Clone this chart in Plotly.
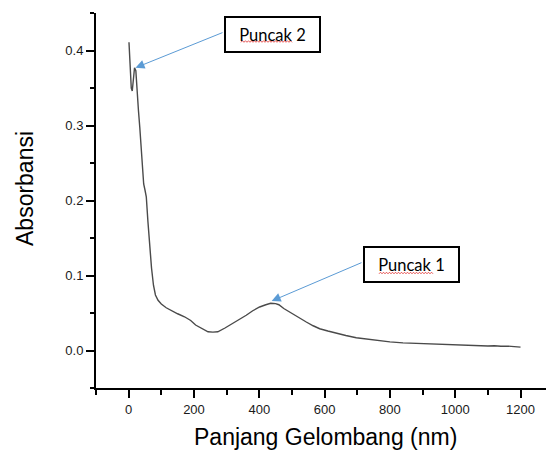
import plotly.graph_objects as go
import numpy as np

wavelength = [1, 4, 8, 11, 15, 18, 22, 26, 30, 34, 40, 46, 50, 54, 59, 64, 70, 76, 82, 90,
              100, 115, 131, 150, 171, 190, 205, 220, 243, 258, 273, 295, 319, 340, 360, 380,
              401, 420, 435, 450, 460, 475, 493, 520, 544, 565, 585, 610, 636, 665, 697, 730,
              768, 800, 840, 880, 911, 950, 990, 1013, 1030, 1045, 1060, 1080, 1100, 1120,
              1140, 1160, 1180, 1200]
absorbance = [0.411, 0.380, 0.350, 0.346, 0.362, 0.377, 0.373, 0.352, 0.320, 0.298, 0.255,
              0.222, 0.214, 0.205, 0.172, 0.140, 0.110, 0.087, 0.074, 0.067, 0.062, 0.057,
              0.053, 0.049, 0.045, 0.040, 0.034, 0.030, 0.025, 0.0245, 0.025, 0.030, 0.036,
              0.042, 0.047, 0.053, 0.058, 0.061, 0.063, 0.0625, 0.061, 0.056, 0.051, 0.044,
              0.038, 0.033, 0.029, 0.026, 0.023, 0.020, 0.017, 0.015, 0.0125, 0.0115, 0.0102,
              0.0095, 0.0089, 0.008, 0.0072, 0.0067, 0.0070, 0.0064, 0.0068, 0.0062, 0.0060,
              0.0064, 0.0056, 0.0059, 0.0052, 0.0045]

x_ticks = [0, 200, 400, 600, 800, 1000, 1200]
y_ticks = [0.0, 0.1, 0.2, 0.3, 0.4]
peak_labels = ["Puncak 2", "Puncak 1"]
peak_points_x = [21, 438]
peak_points_y = [0.377, 0.066]

W, H = 546, 451
L, R, T, B = 96, 0, 13, 63
X_RANGE = [-100, 1278]
Y_RANGE = [-0.05, 0.45]

def px_to_data(px, py):
    pw = W - L - R
    ph = H - T - B
    x = X_RANGE[0] + (px - L) / pw * (X_RANGE[1] - X_RANGE[0])
    y = Y_RANGE[1] - (py - T) / ph * (Y_RANGE[1] - Y_RANGE[0])
    return x, y

def px_to_paper(px, py):
    return (px - L) / (W - L - R), (H - B - py) / (H - T - B)

fig = go.Figure()
fig.add_trace(go.Scatter(x=wavelength, y=absorbance, mode="lines",
                         line=dict(color="#4a4a4a", width=1.4), showlegend=False,
                         hoverinfo="skip"))

font_ax = dict(family="Liberation Sans, Arial", size=13, color="#1a1a1a")
fig.update_xaxes(range=X_RANGE, tickvals=x_ticks, ticks="outside", ticklen=8, tickwidth=2,
                 tickcolor="black", showline=True, linecolor="black", linewidth=2,
                 showgrid=False, zeroline=False, tickfont=font_ax, automargin=False,
                 minor=dict(dtick=100, tick0=0, ticks="outside", ticklen=5, tickwidth=2,
                            tickcolor="black", showgrid=False))
fig.update_yaxes(range=Y_RANGE, tickvals=y_ticks, ticktext=[f"{v:.1f}" for v in y_ticks],
                 ticks="outside", ticklen=8, tickwidth=2, automargin=False,
                 tickcolor="black", showline=True, linecolor="black", linewidth=2,
                 showgrid=False, zeroline=False, tickfont=font_ax,
                 minor=dict(dtick=0.05, tick0=0, ticks="outside", ticklen=4, tickwidth=2,
                            tickcolor="black", showgrid=False))

annotations = []
annotations.append(dict(text="Panjang Gelombang (nm)", xref="paper", yref="paper",
                        x=px_to_paper(325, 0)[0], y=px_to_paper(0, 437)[1],
                        xanchor="center", yanchor="middle", showarrow=False,
                        font=dict(family="Liberation Sans, Arial", size=23, color="black")))
annotations.append(dict(text="Absorbansi", xref="paper", yref="paper",
                        x=px_to_paper(25, 0)[0], y=px_to_paper(0, 189)[1],
                        xanchor="center", yanchor="middle", showarrow=False, textangle=-90,
                        font=dict(family="Liberation Sans, Arial", size=23, color="black")))

box_centers = [(272.7, 34.7), (411.3, 264.7)]
arrow_tails = [(224, 32), (363, 262)]
shapes = []
squiggles = [(241, 293, 41.5), (379, 433, 273)]
for i, lab in enumerate(peak_labels):
    bx, by = px_to_data(*box_centers[i])
    annotations.append(dict(text=lab, x=bx, y=by, xref="x", yref="y", showarrow=False,
                            width=93, height=33, borderwidth=2, borderpad=0,
                            bordercolor="black", bgcolor="rgba(255,255,255,0)", align="center",
                            font=dict(family="Lato, Open Sans", size=16.5, color="black")))
    tip_x, tip_y = peak_points_x[i], peak_points_y[i]
    pw = W - L - R
    ph = H - T - B
    tpx = L + (tip_x - X_RANGE[0]) / (X_RANGE[1] - X_RANGE[0]) * pw
    tpy = T + (Y_RANGE[1] - tip_y) / (Y_RANGE[1] - Y_RANGE[0]) * ph
    annotations.append(dict(text="", x=tip_x, y=tip_y, xref="x", yref="y",
                            showarrow=True, ax=arrow_tails[i][0] - tpx,
                            ay=arrow_tails[i][1] - tpy, arrowhead=2, arrowsize=1.8,
                            arrowwidth=1, arrowcolor="#5b9bd5", standoff=0))
    x0, x1, yy = squiggles[i]
    pts = []
    xs = np.arange(x0, x1 + 0.01, 1.5)
    for k, xv in enumerate(xs):
        py = yy + (0.8 if k % 2 == 0 else -0.8)
        ppx, ppy = px_to_paper(xv, py)
        pts.append(f"{'M' if k == 0 else 'L'}{ppx:.5f},{ppy:.5f}")
    shapes.append(dict(type="path", path=" ".join(pts), xref="paper", yref="paper",
                       layer="above", line=dict(color="#e03030", width=0.8)))

fig.update_layout(width=W, height=H, margin=dict(l=L, r=R, t=T, b=B, autoexpand=False),
                  plot_bgcolor="white", paper_bgcolor="white",
                  annotations=annotations, shapes=shapes)

fig.write_html("out.html", config={"displayModeBar": False},
               post_script="document.body.style.margin='0';document.body.style.overflow='hidden';")
